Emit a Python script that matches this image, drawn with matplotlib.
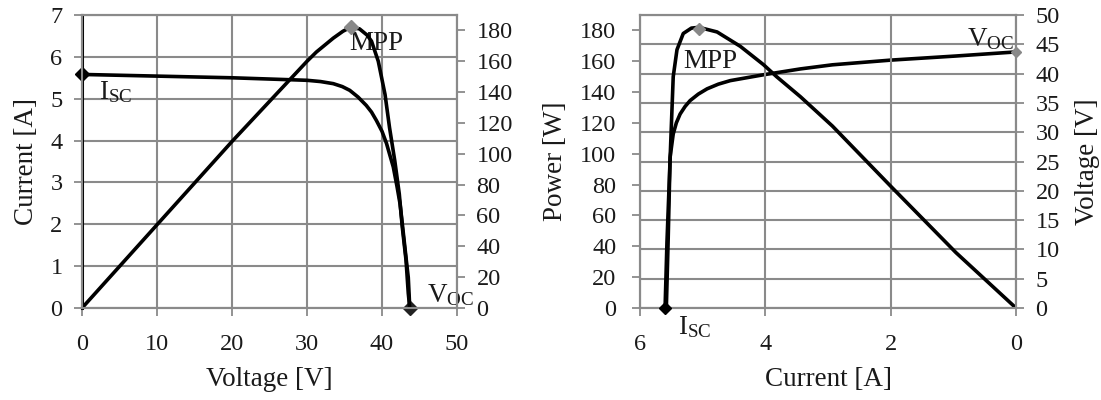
import matplotlib
matplotlib.use("Agg")
from matplotlib import pyplot as plt

plt.rcParams['font.family'] = ['Liberation Serif', 'DejaVu Serif']
plt.rcParams['mathtext.fontset'] = 'custom'
plt.rcParams['mathtext.rm'] = 'Liberation Serif'
plt.rcParams['mathtext.it'] = 'Liberation Serif'

# left panel: I-V and P-V curves
iv_volt = [0, 10, 20, 30, 31.8, 33.5, 34.7, 35.7, 36.8, 37.9, 38.6, 39.25, 40.0, 40.6, 41.0,
           41.5, 42.0, 42.4, 42.7, 43.0, 43.25, 43.5, 43.7]
iv_curr = [5.58, 5.54, 5.50, 5.44, 5.41, 5.36, 5.29, 5.20, 5.04, 4.84, 4.68, 4.48, 4.22, 3.93, 3.68,
           3.37, 2.90, 2.49, 2.02, 1.53, 1.12, 0.73, 0]
pv_volt = [0, 10, 20, 30, 31.25, 32.5, 33.5, 34.8, 35.8, 37.0, 38.0, 38.6, 39.5, 40.4, 41.0,
           41.7, 42.3, 42.7, 43.2, 43.5, 43.7]
pv_pow = [0, 54, 108, 160, 166, 171, 175, 179.5, 182, 181, 177, 173, 160, 138.5, 117,
          95.5, 74, 52.5, 31, 9.5, 0]

# right panel: P-I and V-I curves
pi_curr = [5.60, 5.57, 5.53, 5.49, 5.47, 5.41, 5.31, 5.18, 5.06, 4.77, 4.40, 4.03, 3.82, 3.44,
           2.93, 2.0, 0.96, 0]
pi_pow = [0, 42.5, 85.6, 128.7, 150, 167.5, 178, 181.5, 182, 179, 169.7, 157.8, 150, 137,
          118, 79, 36, 0]
vi_curr = [5.58, 5.55, 5.52, 5.47, 5.42, 5.36, 5.28, 5.20, 5.07, 4.93, 4.75, 4.56, 4.03, 3.44,
           2.93, 2.0, 0.96, 0]
vi_volt = [0, 12, 25.7, 29.7, 31.6, 33.1, 34.4, 35.4, 36.5, 37.4, 38.2, 38.8, 39.8, 40.8,
           41.5, 42.3, 43.0, 43.7]

grid_c = '#8a8a8a'
text_c = '#1a1a1a'
tick_fs = 17.5
lab_fs = 19.5
ann_fs = 19.5

fig = plt.figure(figsize=(11.01, 4.0), dpi=100)

# ---- left chart
ax1 = fig.add_axes([0.0745, 0.23, 0.3406, 0.7325])
ax1b = ax1.twinx()
ax1.set_xlim(0, 50)
ax1.set_ylim(0, 7)
ax1.set_xticks(range(0, 51, 10))
ax1.set_yticks(range(0, 8))
ax1b.set_ylim(0, 190)
ax1b.set_yticks(range(0, 181, 20))
ax1.grid(True, color=grid_c, lw=1.5)
ax1.plot(iv_volt, iv_curr, color='black', lw=2.6)
ax1b.plot(pv_volt, pv_pow, color='black', lw=2.6)
ax1.plot([iv_volt[0]], [iv_curr[0]], 'D', color='black', ms=7, clip_on=False, zorder=5)
ax1.plot([iv_volt[-1]], [iv_curr[-1]], 'D', color='#222222', ms=7, clip_on=False, zorder=5)
ax1b.plot([35.8], [182], 'D', color='#888888', ms=7, clip_on=False, zorder=5)
ax1.text(2.3, 5.47, r'$\mathrm{I}_{\mathrm{SC}}$', fontsize=ann_fs, color=text_c, va='top')
ax1.text(35.6, 6.31, 'MPP', fontsize=ann_fs, color=text_c, va='center')
ax1.text(46.0, 0.62, r'$\mathrm{V}_{\mathrm{OC}}$', fontsize=ann_fs, color=text_c, va='top', clip_on=False)
ax1.set_xlabel('Voltage [V]', fontsize=lab_fs, color=text_c, labelpad=8)
ax1.set_ylabel('Current [A]', fontsize=lab_fs, color=text_c, labelpad=8)

# ---- right chart
ax2 = fig.add_axes([0.5813, 0.23, 0.3415, 0.7325])
ax2b = ax2.twinx()
ax2.set_xlim(6, 0)
ax2.set_xticks([6, 4, 2, 0])
ax2.set_ylim(0, 190)
ax2.set_yticks(range(0, 181, 20))
ax2b.set_ylim(0, 50)
ax2b.set_yticks(range(0, 51, 5))
ax2.grid(True, axis='x', color=grid_c, lw=1.5)
ax2b.grid(True, axis='y', color=grid_c, lw=1.5)
ax2.set_zorder(ax2b.get_zorder() + 1)
ax2.patch.set_visible(False)
ax2.plot(pi_curr, pi_pow, color='black', lw=2.6)
ax2b.plot(vi_curr, vi_volt, color='black', lw=2.6)
ax2.plot([pi_curr[0]], [pi_pow[0]], 'D', color='black', ms=6, clip_on=False, zorder=5)
ax2.plot([5.06], [181], 'D', color='#888888', ms=6, clip_on=False, zorder=5)
ax2b.plot([vi_curr[-1]], [vi_volt[-1]], 'D', color='#888888', ms=5, clip_on=False, zorder=5)
ax2.text(5.31, 160, 'MPP', fontsize=ann_fs, color=text_c, va='center')
ax2.text(5.39, -4, r'$\mathrm{I}_{\mathrm{SC}}$', fontsize=ann_fs, color=text_c, va='top', clip_on=False)
ax2.text(0.78, 182.5, r'$\mathrm{V}_{\mathrm{OC}}$', fontsize=ann_fs, color=text_c, va='top')
ax2.set_xlabel('Current [A]', fontsize=lab_fs, color=text_c, labelpad=8)
ax2.set_ylabel('Power [W]', fontsize=lab_fs, color=text_c, labelpad=9)
ax2b.set_ylabel('Voltage [V]', fontsize=lab_fs, color=text_c, labelpad=11)

for a in (ax1, ax1b, ax2, ax2b):
    a.set_axisbelow(True)
    a.tick_params(labelsize=tick_fs, colors=text_c, length=6, width=1.3, color=grid_c)
    a.tick_params(axis='y', pad=8)
    a.tick_params(axis='x', pad=13)
    for s in a.spines.values():
        s.set_color(grid_c)
        s.set_linewidth(1.5)
ax1.spines['left'].set_color('black')
ax1.spines['left'].set_linewidth(2.2)
ax2.tick_params(axis='y', pad=11)

fig.savefig('out.png', dpi=100)
